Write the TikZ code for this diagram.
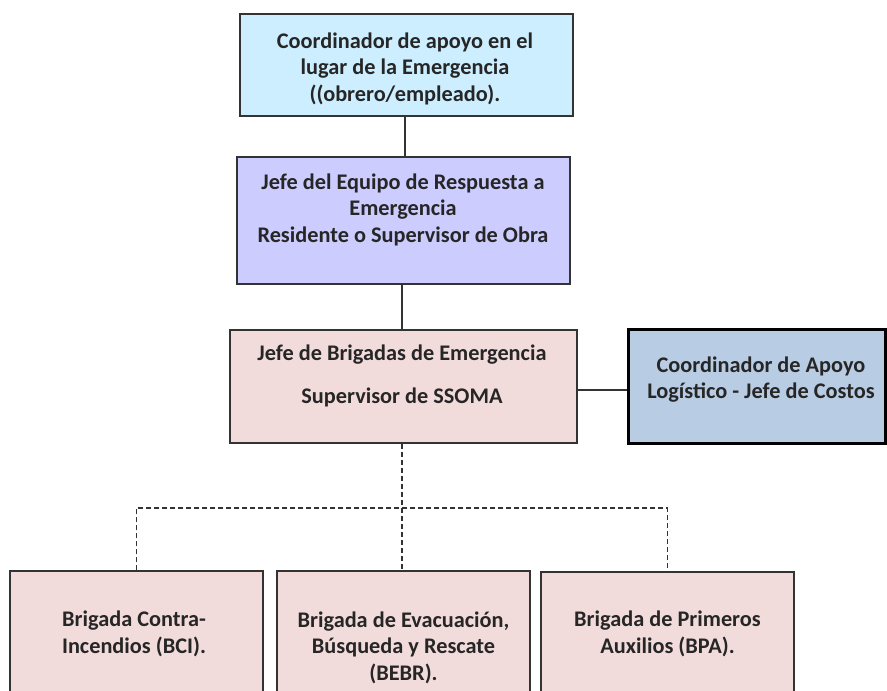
\documentclass[tikz,border=0pt]{standalone}
\usepackage{fontspec}
\setmainfont{Carlito}
\usetikzlibrary{positioning}

\definecolor{azulclaro}{HTML}{CCEEFF}
\definecolor{lavanda}{HTML}{CCCCFF}
\definecolor{rosa}{HTML}{F2DCDB}
\definecolor{azullog}{HTML}{B8CCE4}
\definecolor{borde}{HTML}{333333}

\tikzset{
  caja/.style={draw=borde, line width=1.3pt, inner sep=0pt},
  texto/.style={font=\bfseries\fontsize{22.3}{26.5}\selectfont, align=center, text=black!85},
  conector/.style={draw=borde, line width=1.2pt},
  guion/.style={conector, dash pattern=on 5pt off 3pt},
}

\begin{document}
\begin{tikzpicture}[x=1pt, y=-1pt]
    \useasboundingbox (0,0) rectangle (887,691);

    % Coordinador en el lugar
    \node[caja, fill=azulclaro, minimum width=333pt, minimum height=102pt] (coord) at (406.5, 65) {};
    \node[texto] (coordtxt) at (405, 68.5) {Coordinador de apoyo en el\\lugar de la Emergencia\\((obrero/empleado).};

    % Jefe del equipo
    \node[caja, fill=lavanda, minimum width=333pt, minimum height=127pt] (jefe) at (403.5, 220.5) {};
    \node[texto] (jefetxt) at (403, 209.5) {Jefe del Equipo de Respuesta a\\Emergencia\\Residente o Supervisor de Obra};

    % Jefe de brigadas
    \node[caja, fill=rosa, minimum width=347pt, minimum height=113pt] (brig) at (403.5, 386.5) {};
    \node[texto] (brigtxt) at (402, 375.5) {Jefe de Brigadas de Emergencia\\[16.5pt]Supervisor de SSOMA};

    % Apoyo logistico
    \node[caja, draw=black, line width=3pt, fill=azullog, minimum width=257pt, minimum height=114pt] (logis) at (756.5, 386) {};
    \node[texto] (logistxt) at (761, 379.5) {Coordinador de Apoyo\\Logístico - Jefe de Costos};

    % Brigadas
    \node[caja, fill=rosa, minimum width=253pt, minimum height=140pt] (bci) at (136.5, 641) {};
    \node[caja, fill=rosa, minimum width=253pt, minimum height=140pt] (bebr) at (403.5, 641) {};
    \node[caja, fill=rosa, minimum width=253pt, minimum height=140pt] (bpa) at (667.5, 642) {};
    \node[texto] (bcitxt) at (134, 634) {Brigada Contra-\\Incendios (BCI).};
    \node[texto] (bebrtxt) at (403.5, 647.5) {Brigada de Evacuación,\\Búsqueda y Rescate\\(BEBR).};
    \node[texto] (bpatxt) at (667.5, 634) {Brigada de Primeros\\Auxilios (BPA).};

    % Lineas
    \draw[conector] (coord.south -| 405,0) -- (jefe.north -| 405,0);
    \draw[conector] (jefe.south -| 402,0) -- (brig.north -| 402,0);
    \draw[conector] (brig.east |- 0,390) -- (logis.west |- 0,390);

    % Lineas a las brigadas
    \draw[guion] (brig.south -| 402,0) -- (402, 508) coordinate (bus);
    \draw[guion] (bci.north) |- (bus) -| (bpa.north);
    \draw[guion] (bus) -- (bebr.north -| bus);
\end{tikzpicture}
\end{document}
